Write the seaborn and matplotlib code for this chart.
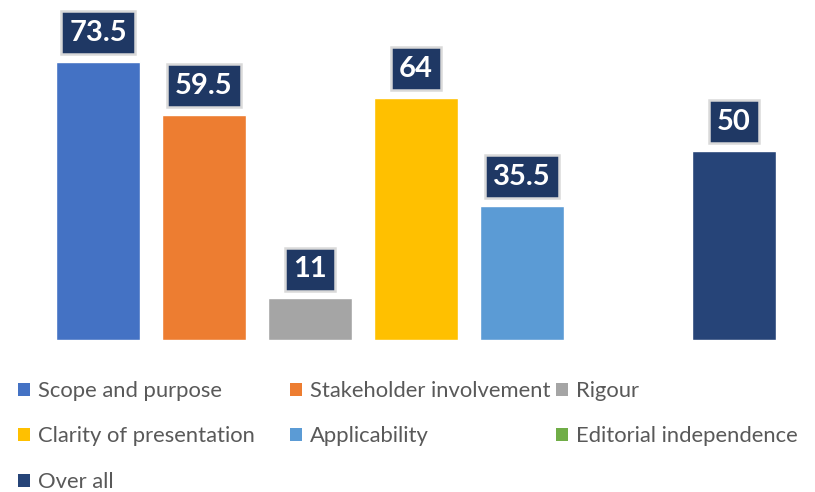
import matplotlib
matplotlib.use("Agg")
import matplotlib.pyplot as plt
import matplotlib.patches as mpatches
import seaborn as sns
import pandas as pd

# chart data
categories = ['Scope and purpose', 'Stakeholder involvement', 'Rigour',
              'Clarity of presentation', 'Applicability', 'Editorial independence',
              'Over all']
scores = [73.5, 59.5, 11, 64, 35.5, 0, 50]
colors = ['#4472C4', '#ED7D31', '#A5A5A5', '#FFC000', '#5B9BD5', '#70AD47', '#264478']

# legend columns as laid out in the reference
legend_cols = [
    ['Scope and purpose', 'Clarity of presentation', 'Over all'],
    ['Stakeholder involvement', 'Applicability'],
    ['Rigour', 'Editorial independence'],
]

df = pd.DataFrame({'category': categories, 'score': scores})
palette = dict(zip(categories, colors))

sns.set_theme(style='white')
plt.rcParams['font.family'] = ['Lato', 'DejaVu Sans']

fig = plt.figure(figsize=(8.15, 4.92), dpi=100)
ax = fig.add_axes([45 / 815, 152 / 492, 742 / 815, 303 / 492])

sns.barplot(data=df, x='category', y='score', hue='category', palette=palette,
            order=categories, hue_order=categories, dodge=False, width=0.79,
            saturation=1, legend=False, ax=ax)

ax.set_xlim(-0.5, len(categories) - 0.5)
ax.set_ylim(0, 80)
ax.set(xlabel='', ylabel='', xticks=[], yticks=[])
sns.despine(ax=ax, left=True, bottom=True)

# value boxes above bars
for i, v in enumerate(scores):
    if v == 0:
        continue
    ax.annotate(f'{v:g}', xy=(i, v), xytext=(0, 16), textcoords='offset pixels',
                ha='center', va='bottom', fontsize=21, fontweight='bold', color='white',
                annotation_clip=False,
                bbox=dict(boxstyle='square,pad=0.28', facecolor='#1F3864',
                          edgecolor='#D9D9D9', linewidth=1.8))

# legend, three columns placed like the original
col_x = [18 / 815, 290 / 815, 556 / 815]
for cx, names in zip(col_x, legend_cols):
    handles = [mpatches.Patch(facecolor=palette[n], edgecolor='none', label=n) for n in names]
    leg = fig.legend(handles=handles, loc='upper left', bbox_to_anchor=(cx, 1 - 381 / 492),
                     frameon=False, fontsize=15.8, borderpad=0, borderaxespad=0,
                     handlelength=0.55, handleheight=0.55, handletextpad=0.35,
                     labelspacing=1.16)
    for t in leg.get_texts():
        t.set_color('#595959')

fig.savefig('out.png', dpi=100)
